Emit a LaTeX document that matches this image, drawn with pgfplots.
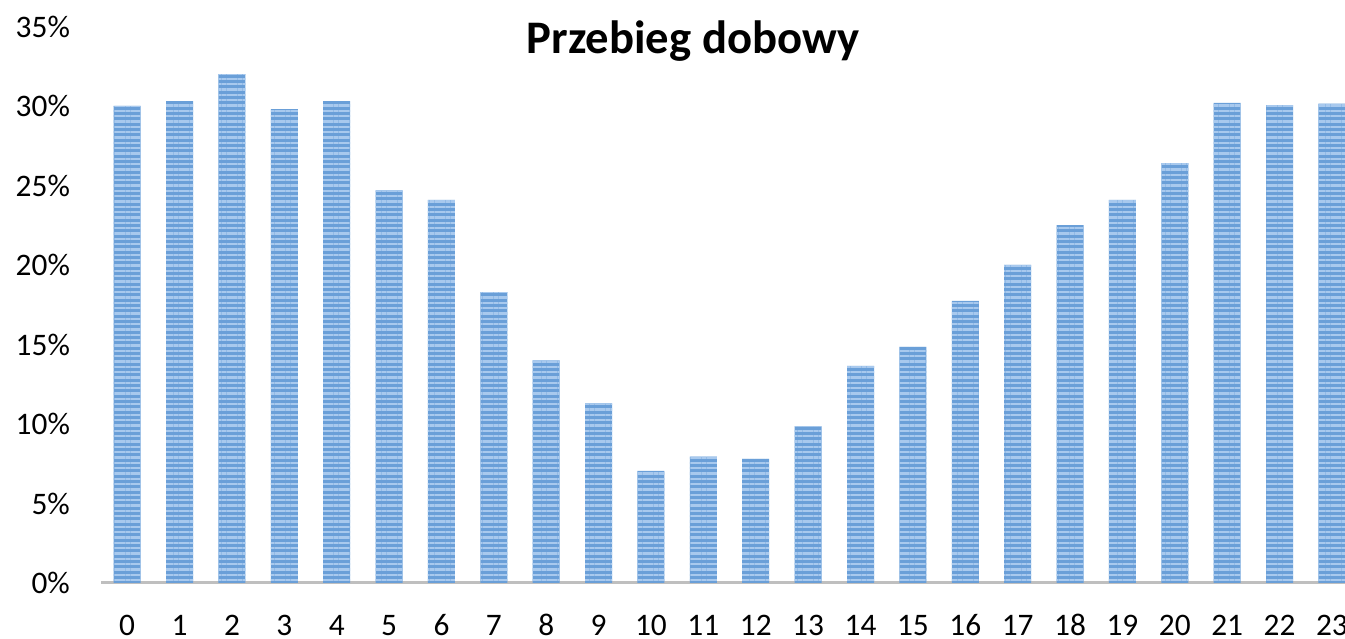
\documentclass[border=0pt]{standalone}
\usepackage{fontspec}
\setmainfont{Carlito}
\usepackage{pgfplots}
\pgfplotsset{compat=1.18}
\usetikzlibrary{patterns.meta}

\definecolor{barblue}{HTML}{6A9FD8}
\definecolor{stripe}{HTML}{A8C9EE}
\definecolor{axisgray}{HTML}{BFBFBF}

\pgfplotstableread{
h  v
0  30.0
1  30.3
2  32.0
3  29.8
4  30.3
5  24.7
6  24.1
7  18.3
8  14.0
9  11.3
10 7.05
11 7.95
12 7.8
13 9.85
14 13.65
15 14.85
16 17.75
17 20.0
18 22.5
19 24.1
20 26.4
21 30.2
22 30.05
23 30.15
}\dobowy

\begin{document}
\begin{tikzpicture}
  \begin{axis}[
    at={(0,0)}, anchor=south west,
    scale only axis,
    width=373.2pt, height=166.95pt,
    xmin=-0.5, xmax=23.25,
    ymin=0, ymax=35,
    axis x line*=bottom, axis y line*=left,
    x axis line style={axisgray, line width=0.9pt, -},
    y axis line style={draw=none},
    major tick length=0pt,
    xtick={0,1,...,23},
    ytick={0,5,...,35},
    yticklabels={0\%,5\%,10\%,15\%,20\%,25\%,30\%,35\%},
    /pgf/number format/assume math mode=true,
    tick label style={font=\fontsize{9.4}{11}\selectfont, text=black},
    yticklabel style={xshift=-5.8pt},
    xticklabel style={anchor=base, yshift=-15.8pt},
    title={\textbf{Przebieg dobowy}},
    title style={at={(0.476,0.952)}, anchor=base, yshift=-6pt, font=\fontsize{14}{16}\selectfont},
    ybar, bar width=8.1pt,
  ]
  \addplot[draw=none, fill=barblue,
    postaction={pattern={Lines[angle=0, distance=1.6pt, line width=0.7pt]}, pattern color=stripe}]
    table[x=h, y=v] {\dobowy};
  \end{axis}
  \pgfresetboundingbox
  \useasboundingbox (-30.3pt,-16.8pt) rectangle (373.2pt,174.9pt);
\end{tikzpicture}
\end{document}
